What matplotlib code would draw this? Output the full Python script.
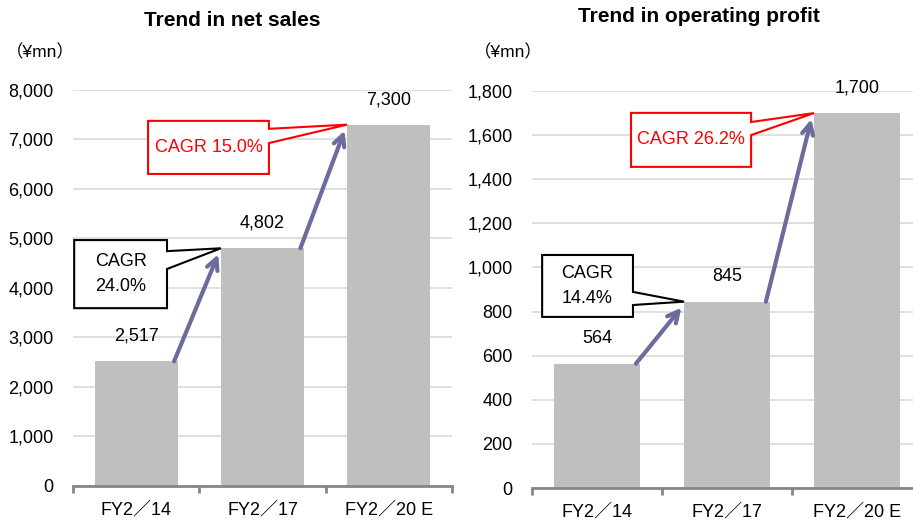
import numpy as np
import matplotlib
matplotlib.use("Agg")
import matplotlib.pyplot as plt
from matplotlib.patches import Polygon

plt.rcParams['font.family'] = ['Liberation Sans', 'Noto Sans CJK JP', 'DejaVu Sans']

# data
categories = ['FY2／14', 'FY2／17', 'FY2／20 E']
net_sales = [2517, 4802, 7300]
op_profit = [564, 845, 1700]
sales_cagr = ['CAGR\n24.0%', 'CAGR 15.0%']
profit_cagr = ['CAGR\n14.4%', 'CAGR 26.2%']
titles = ['Trend in net sales', 'Trend in operating profit']

bar_color = '#bfbfbf'
grid_color = '#d9d9d9'
arrow_color = '#6b6b9e'

fig = plt.figure(figsize=(9.13, 5.22), dpi=100)
ax1 = fig.add_axes([0.080, 0.069, 0.415, 0.7586])
ax2 = fig.add_axes([0.5827, 0.0651, 0.427, 0.7605])


def callout(ax, box, base, tip, text, color, fs):
    # box: (x0, x1, ytop, ybot) in axes fraction, base: pointer root on right edge
    x0, x1, ytop, ybot = box
    tx, ty = ax.transAxes.inverted().transform(ax.transData.transform(tip))
    pts = [(x0, ytop), (x1, ytop), (x1, base[0]), (tx, ty), (x1, base[1]),
           (x1, ybot), (x0, ybot)]
    poly = Polygon(pts, closed=True, facecolor='white', edgecolor=color,
                   lw=1.5, transform=ax.transAxes, zorder=5, clip_on=False)
    ax.add_patch(poly)
    ax.text((x0 + x1) / 2, (ytop + ybot) / 2, text, transform=ax.transAxes,
            ha='center', va='center', color=color, fontsize=fs,
            linespacing=1.6, zorder=6)


def draw(ax, vals, ymax, step, cagr, boxes, bases):
    x = np.arange(len(categories))
    ax.bar(x, vals, width=0.66, color=bar_color, zorder=2)
    ax.set_xlim(-0.5, len(categories) - 0.5)
    ax.set_ylim(0, ymax)
    ax.set_yticks(np.arange(0, ymax + 1, step))
    ax.set_yticklabels([f'{v:,}' for v in np.arange(0, ymax + 1, step)])
    ax.yaxis.grid(True, color=grid_color, lw=1.2, zorder=0)
    ax.set_axisbelow(True)
    for s in ['left', 'right', 'top']:
        ax.spines[s].set_visible(False)
    ax.spines['bottom'].set_color('#868686')
    ax.spines['bottom'].set_linewidth(2)
    ax.tick_params(axis='y', length=0, pad=14, labelsize=13)
    ax.set_xticks(x)
    ax.set_xticklabels(categories)
    ax.tick_params(axis='x', length=0, pad=11, labelsize=13)
    ax.set_xticks(np.arange(-0.5, len(categories)), minor=True)
    ax.tick_params(axis='x', which='minor', length=5, width=2,
                   color='#868686')
    for i, v in enumerate(vals):
        ax.annotate(f'{v:,}', (i, v), xytext=(0, 18),
                    textcoords='offset points', ha='center', va='center',
                    fontsize=13)
    # growth arrows
    for i in range(len(vals) - 1):
        ax.annotate('', xy=(i + 0.65, vals[i + 1] - 0.015 * ymax),
                    xytext=(i + 0.3, vals[i]),
                    arrowprops=dict(arrowstyle='->,head_length=0.8,head_width=0.4',
                                    color=arrow_color, lw=3,
                                    shrinkA=0, shrinkB=0),
                    zorder=4)
    colors = ['black', 'red']
    for i in range(len(vals) - 1):
        callout(ax, boxes[i], bases[i], (i + 1 - 0.33, vals[i + 1]),
                cagr[i], colors[i], 13)


draw(ax1, net_sales, 8000, 1000, sales_cagr,
     [(0.003, 0.248, 0.621, 0.449), (0.198, 0.517, 0.922, 0.788)],
     [(0.593, 0.548), (0.902, 0.866)])
draw(ax2, op_profit, 1800, 200, profit_cagr,
     [(0.026, 0.259, 0.587, 0.431), (0.254, 0.562, 0.945, 0.809)],
     [(0.494, 0.461), (0.922, 0.889)])

fig.text(232 / 913, 1 - 20 / 522, titles[0], ha='center', va='center',
         fontsize=15, fontweight='bold')
fig.text(699 / 913, 1 - 17 / 522, titles[1], ha='center', va='center',
         fontsize=15, fontweight='bold')
fig.text(40 / 913, 1 - 52 / 522, '（¥mn）', ha='center', va='center',
         fontsize=12.5)
fig.text(508 / 913, 1 - 52 / 522, '（¥mn）', ha='center', va='center',
         fontsize=12.5)

fig.savefig('out.png', dpi=100)
